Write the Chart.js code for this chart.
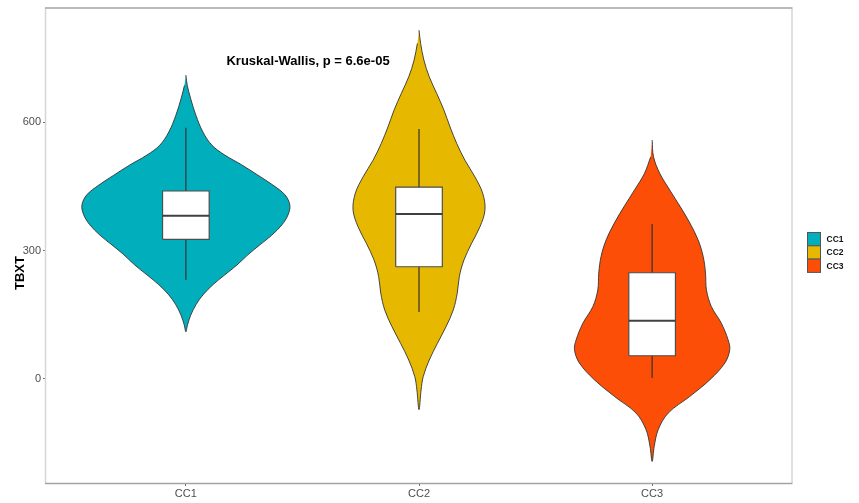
<!DOCTYPE html>
<html>
<head>
<meta charset="utf-8">
<script src="https://cdn.jsdelivr.net/npm/chart.js@4/dist/chart.umd.min.js"></script>
<style>
html,body{margin:0;padding:0;background:#fff;}
canvas{display:block;}
</style>
</head>
<body>
<canvas id="c" width="859" height="503"></canvas>
<script>
// ---- data ----
const categories = ['CC1', 'CC2', 'CC3'];
const colors = ['#00AFBB', '#E7B800', '#FC4E07'];
const yTicks = [0, 300, 600];

// violin outlines: value along y and half-width (in category units)
const cc1Y = [710,686,656,616,577,546,523,500,476,453,430,406,383,360,336,313,290,266,243,220,196,173,149,126,110];
const cc1W = [0,.006,.020,.043,.073,.112,.167,.240,.309,.373,.425,.446,.438,.412,.369,.317,.266,.219,.167,.116,.073,.043,.021,.007,0];
const cc2Y = [815,784,745,706,667,628,589,550,511,472,434,395,356,317,278,239,200,161,122,83,44,5,-26,-72];
const cc2W = [0,.007,.021,.044,.076,.107,.133,.162,.197,.240,.273,.283,.262,.226,.193,.173,.164,.147,.116,.079,.044,.018,.009,0];
const cc3Y = [558,519,480,441,402,364,325,286,247,208,169,130,91,68,37,-2,-41,-80,-119,-158,-193];
const cc3W = [0,.006,.033,.076,.121,.162,.197,.219,.229,.233,.254,.297,.326,.333,.312,.248,.162,.069,.026,.009,0];

// box plot statistics
const whiskerLow  = [231, 156, 2];
const q1          = [326, 262, 54];
const medians     = [381, 385, 136];
const q3          = [439, 448, 248];
const whiskerHigh = [587, 584, 362];

const annotationText = 'Kruskal-Wallis, p = 6.6e-05';
const annotationPos = [1.524, 742];
const yTitle = 'TBXT';

// ---- build datasets ----
const violinY = [cc1Y, cc2Y, cc3Y];
const violinW = [cc1W, cc2W, cc3W];
const BOX_HALF = 0.1;
const FONT = "'Liberation Sans', Arial, sans-serif";

function violinPoints(c, ys, ws) {
  const pts = [];
  for (let i = 0; i < ys.length; i++) pts.push({x: c + ws[i], y: ys[i]});
  for (let i = ys.length - 2; i >= 1; i--) pts.push({x: c - ws[i], y: ys[i]});
  return pts;
}

const datasets = [];
categories.forEach((name, i) => {
  const c = i + 1;
  datasets.push({
    label: name,
    data: violinPoints(c, violinY[i], violinW[i]),
    showLine: true, fill: 'shape', tension: 0.35,
    backgroundColor: colors[i], borderColor: '#333333', borderWidth: 0.9,
    pointRadius: 0, order: 4
  });
  datasets.push({
    label: name + ' whisker',
    data: [{x: c, y: whiskerLow[i]}, {x: c, y: whiskerHigh[i]}],
    showLine: true, fill: false, borderColor: '#333333', borderWidth: 1.2,
    pointRadius: 0, order: 3
  });
  datasets.push({
    label: name + ' box',
    data: [{x: c - BOX_HALF, y: q1[i]}, {x: c + BOX_HALF, y: q1[i]}, {x: c + BOX_HALF, y: q3[i]},
           {x: c - BOX_HALF, y: q3[i]}, {x: c - BOX_HALF, y: q1[i]}],
    showLine: true, fill: 'shape', tension: 0,
    backgroundColor: '#ffffff', borderColor: '#4d4d4d', borderWidth: 1.2,
    pointRadius: 0, order: 2
  });
  datasets.push({
    label: name + ' median',
    data: [{x: c - BOX_HALF, y: medians[i]}, {x: c + BOX_HALF, y: medians[i]}],
    showLine: true, fill: false, borderColor: '#404040', borderWidth: 2,
    pointRadius: 0, order: 1
  });
});

const decorPlugin = {
  id: 'decor',
  afterDatasetsDraw(chart) {
    const ctx = chart.ctx, a = chart.chartArea;
    const xs = chart.scales.x, ys = chart.scales.y;
    ctx.save();
    // panel border
    ctx.lineWidth = 1.5;
    ctx.strokeStyle = '#d6d6d6';
    ctx.beginPath(); ctx.moveTo(a.left - 0.5, a.top); ctx.lineTo(a.left - 0.5, a.bottom); ctx.stroke();
    ctx.beginPath(); ctx.moveTo(a.right, a.top); ctx.lineTo(a.right, a.bottom); ctx.stroke();
    ctx.strokeStyle = '#a3a3a3';
    ctx.beginPath(); ctx.moveTo(a.left - 1, a.top - 0.5); ctx.lineTo(a.right + 0.5, a.top - 0.5); ctx.stroke();
    ctx.beginPath(); ctx.moveTo(a.left - 1, a.bottom + 0.5); ctx.lineTo(a.right + 0.5, a.bottom + 0.5); ctx.stroke();
    // annotation
    ctx.fillStyle = '#000000';
    ctx.font = 'bold 13px ' + FONT;
    ctx.textAlign = 'center';
    ctx.textBaseline = 'middle';
    ctx.fillText(annotationText, xs.getPixelForValue(annotationPos[0]), ys.getPixelForValue(annotationPos[1]));
    // y title
    ctx.save();
    ctx.translate(20, 273);
    ctx.rotate(-Math.PI / 2);
    ctx.font = 'bold 13px ' + FONT;
    ctx.fillStyle = '#000000';
    ctx.fillText(yTitle, 0, 0);
    ctx.restore();
    // legend
    const lx = 807.5, ly0 = 232.5, kh = 13.3, kw = 13;
    categories.forEach((name, i) => {
      const y = ly0 + i * kh;
      ctx.fillStyle = colors[i];
      ctx.fillRect(lx, y, kw, kh);
      ctx.strokeStyle = '#555555';
      ctx.lineWidth = 1;
      ctx.strokeRect(lx, y, kw, kh);
      ctx.fillStyle = '#111111';
      ctx.font = 'bold 8.5px ' + FONT;
      ctx.textAlign = 'left';
      ctx.textBaseline = 'middle';
      ctx.fillText(name, 826.5, y + kh / 2 + 0.5);
    });
    ctx.restore();
  }
};

new Chart(document.getElementById('c'), {
  type: 'scatter',
  data: {datasets},
  options: {
    responsive: false,
    animation: false,
    devicePixelRatio: 1,
    layout: {padding: {left: 0, right: 67, top: 8, bottom: 0}},
    plugins: {legend: {display: false}, tooltip: {enabled: false}},
    scales: {
      x: {
        type: 'linear', min: 0.4, max: 3.6,
        afterBuildTicks: s => { s.ticks = categories.map((c, i) => ({value: i + 1})); },
        afterFit: s => { s.height = 20; },
        ticks: {callback: (v, i) => categories[i], font: {family: FONT, size: 11}, color: '#4d4d4d', padding: 1, maxRotation: 0, autoSkip: false},
        grid: {display: true, drawOnChartArea: false, drawTicks: true, tickLength: 3, tickColor: '#666666', tickWidth: 1},
        border: {display: false}
      },
      y: {
        type: 'linear', min: -243.5, max: 865.4,
        afterBuildTicks: s => { s.ticks = yTicks.map(v => ({value: v})); },
        afterFit: s => { s.width = 46; },
        ticks: {font: {family: FONT, size: 11}, color: '#4d4d4d', padding: 2, autoSkip: false},
        grid: {display: true, drawOnChartArea: false, drawTicks: true, tickLength: 3, tickColor: '#666666', tickWidth: 1},
        border: {display: false}
      }
    }
  },
  plugins: [decorPlugin]
});
</script>
</body>
</html>
